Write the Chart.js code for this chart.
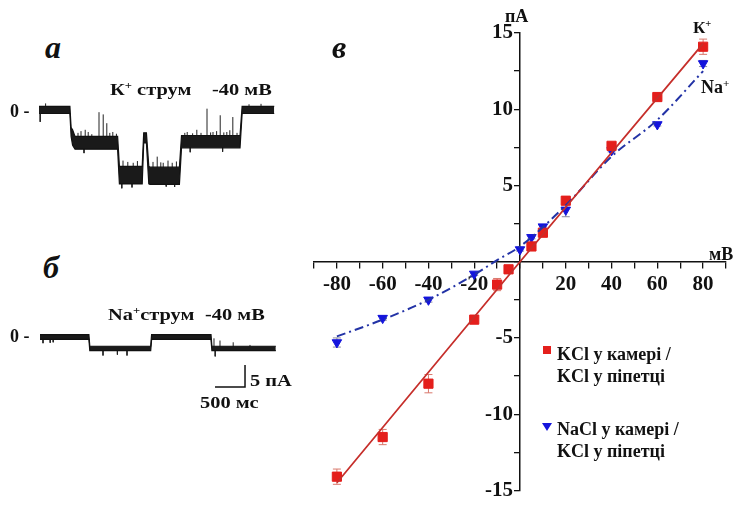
<!DOCTYPE html>
<html lang="uk">
<head>
<meta charset="utf-8">
<title>K+ / Na+ струм</title>
<script src="https://cdn.jsdelivr.net/npm/chart.js@4.4.0/dist/chart.umd.min.js"></script>
<style>
  html, body { margin: 0; padding: 0; background: #fff; }
  #wrap { position: relative; width: 738px; height: 506px; overflow: hidden;
          font-family: "Liberation Serif", "Times New Roman", serif; font-weight: bold; color: #111; }
  canvas { position: absolute; }
  .t { position: absolute; white-space: nowrap; line-height: 1; transform-origin: 0 0; }
  .sup { font-size: 0.62em; position: relative; top: -0.55em; }
  .big { font-size: 32px; font-style: italic; }
  .wide { transform: scaleX(1.2); }
  .mk { position: absolute; }
</style>
</head>
<body>
<div id="wrap">
  <canvas id="traceA" width="260" height="110" style="left:30px;top:85px"></canvas>
  <canvas id="traceB" width="260" height="110" style="left:30px;top:310px"></canvas>
  <canvas id="iv" width="438" height="506" style="left:300px;top:0px"></canvas>

  <!-- panel letters -->
  <div class="t big" style="left:45px;top:31px">а</div>
  <div class="t big" style="left:43px;top:251px">б</div>
  <div class="t big" style="left:332px;top:31px">в</div>

  <!-- trace a labels -->
  <div class="t wide" style="left:110px;top:81px;font-size:17px">К<span class="sup">+</span> струм</div>
  <div class="t wide" style="left:212px;top:81px;font-size:17px">-40 мВ</div>
  <div class="t" style="left:10px;top:102px;font-size:18px">0 -</div>

  <!-- trace b labels -->
  <div class="t wide" style="left:108px;top:306px;font-size:17px">Na<span class="sup">+</span>струм</div>
  <div class="t wide" style="left:205px;top:306px;font-size:17px">-40 мВ</div>
  <div class="t" style="left:10px;top:327px;font-size:18px">0 -</div>
  <div class="t wide" style="left:250px;top:372px;font-size:17px">5 пА</div>
  <div class="t wide" style="left:200px;top:394px;font-size:17px">500 мс</div>

  <!-- I-V labels -->
  <div class="t" style="left:505px;top:7px;font-size:18px">пА</div>
  <div class="t" style="left:709px;top:245px;font-size:18px">мВ</div>
  <div class="t" style="left:693px;top:19px;font-size:17px">К<span class="sup">+</span></div>
  <div class="t" style="left:701px;top:78px;font-size:18px">Na<span class="sup">+</span></div>

  <!-- legend -->
  <div class="mk" style="left:543px;top:346px;width:8px;height:8px;background:#e41f1c"></div>
  <div class="t" style="left:557px;top:345px;font-size:18px">KCl у камері /</div>
  <div class="t" style="left:557px;top:367px;font-size:18px">KCl у піпетці</div>
  <div class="mk" style="left:542px;top:423px;width:0;height:0;border-left:5px solid transparent;border-right:5px solid transparent;border-top:8px solid #1414dc"></div>
  <div class="t" style="left:557px;top:420px;font-size:18px">NaCl у камері /</div>
  <div class="t" style="left:557px;top:442px;font-size:18px">KCl у піпетці</div>
</div>

<script>
// --- I-V data (mV, pA) ---
const kV   = [-80, -60, -40, -20, -10, -5, 5, 10, 20, 40, 60, 80];
const kI   = [-14.1, -11.5, -8.0, -3.8, -1.5, -0.5, 1.0, 1.9, 4.0, 7.6, 10.8, 14.1];
const kErr = [0.5, 0.5, 0.6, 0.15, 0.4, 0.1, 0.1, 0.1, 0.1, 0.15, 0.1, 0.5];

const naV   = [-80, -60, -40, -20, 0, 5, 10, 20, 40, 60, 80];
const naI   = [-5.3, -3.7, -2.5, -0.8, 0.8, 1.6, 2.3, 3.4, 7.3, 9.0, 13.0];
const naErr = [0.3, 0.15, 0.15, 0.1, 0.1, 0.1, 0.1, 0.45, 0.1, 0.1, 0.2];

const kFitV  = [-80, 0, 80];
const kFitI  = [-14.5, 0, 14.3];
const naFitV = [-80, -60, -40, -20, -10, 0, 20, 40, 60, 80];
const naFitI = [-4.9, -3.8, -2.5, -0.85, 0.1, 1.0, 3.7, 6.9, 9.3, 12.5];

// --- single channel traces (ms, pA): noise band edges + spikes ---
const tA  = [0, 515, 535, 560, 600, 1310, 1340, 1720, 1745, 1790, 1830, 1850, 2340, 2375, 3350, 3385, 3920];
const hiA = [0.8, 0.8, -4, -4.5, -6.0, -6.0, -12.8, -12.8, -5.2, -5.2, -12.8, -13.0, -13.0, -5.8, -5.8, 0.8, 0.8];
const loA = [-0.8, -0.8, -6, -8, -8.9, -8.9, -16.8, -16.8, -7.5, -7.5, -16.8, -16.9, -16.9, -8.6, -8.6, -0.8, -0.8];
const spA     = [20, 110, 650, 700, 770, 820, 880, 1000, 1070, 1130, 1180, 1230, 1290, 1400, 1480, 1570, 1640,
                 1900, 1970, 2030, 2070, 2150, 2220, 2290, 2430, 2470, 2560, 2630, 2700, 2800, 2860, 2900,
                 2960, 3020, 3080, 3130, 3180, 3230, 3300, 3500, 3700, 1550, 2120, 1380, 2260, 750, 2520, 3060];
const spAFrom = [0, 0, -7.5, -7.5, -7.5, -7.5, -7.5, -7.5, -7.5, -7.5, -7.5, -7.5, -7.5, -14.8, -14.8, -14.8, -14.8,
                 -14.8, -14.8, -14.8, -14.8, -14.8, -14.8, -14.8, -7.2, -7.2, -7.2, -7.2, -7.2, -7.2, -7.2, -7.2,
                 -7.2, -7.2, -7.2, -7.2, -7.2, -7.2, -7.2, 0, 0, -14.8, -14.8, -14.8, -14.8, -7.5, -7.2, -7.2];
const spATo   = [-2.7, 1.5, -5.2, -4.8, -4.5, -5, -5.5, -0.5, -1, -3, -5.2, -5, -5.4, -11.5, -11.8, -12, -11.6,
                 -11.8, -10.6, -11.9, -12, -11.5, -12, -11.7, -5.2, -5, -5.3, -4.5, -5.2, 0.3, -5.1, -5,
                 -4.8, -1.2, -5.1, -5, -4.6, -1.6, -5.2, 1.3, 1.4, -17.6, -17.4, -17.8, -17.5, -9.8, -9.6, -9.5];

const tB  = [0, 815, 830, 1845, 1860, 2850, 2865, 3930];
const hiB = [0.55, 0.55, -2.1, -2.1, 0.55, 0.55, -2.1, -2.1];
const loB = [-0.55, -0.55, -3.1, -3.1, -0.55, -0.55, -3.1, -3.1];
const spB     = [50, 170, 220, 1050, 1290, 1450, 2900, 2920, 3000, 3220, 3500];
const spBFrom = [0, 0, 0, -2.6, -2.6, -2.6, -2.6, -2.6, -2.6, -2.6, -2.6];
const spBTo   = [-1.4, -1.3, -1.2, -4.2, -4.0, -4.2, -0.3, -4.4, -0.8, -1.2, -1.8];

// scale bar: 500 ms x 5 pA
const barT = [2917, 3417, 3417];
const barI = [-11.36, -11.36, -6.36];

const INK = "#111";

function pts(xs, ys) {
  return xs.map((x, i) => ({ x, y: ys[i] }));
}

function spikes(ts, from, to) {
  const out = [];
  ts.forEach((t, i) => {
    out.push({ x: t, y: from[i] }, { x: t, y: to[i] }, { x: t, y: null });
  });
  return out;
}

function makeTrace(id, t, hi, lo, spT, spFrom, spTo, range, extra) {
  const datasets = [
    { data: pts(t, hi), showLine: true, borderColor: INK, borderWidth: 1.2, pointRadius: 0, clip: false },
    { data: pts(t, lo), showLine: true, borderColor: INK, borderWidth: 1.2, pointRadius: 0,
      fill: "-1", backgroundColor: "#1a1a1a", clip: false },
    { data: spikes(spT, spFrom, spTo), showLine: true, spanGaps: false, borderColor: "#222",
      borderWidth: 1, pointRadius: 0, clip: false },
  ];
  if (extra) datasets.push(extra);
  return new Chart(document.getElementById(id), {
    type: "scatter",
    data: { datasets },
    options: {
      responsive: false,
      animation: false,
      layout: { padding: 0 },
      plugins: { legend: { display: false }, tooltip: { enabled: false } },
      scales: {
        x: { type: "linear", display: false, min: range[0], max: range[1] },
        y: { type: "linear", display: false, min: range[2], max: range[3] },
      },
    },
  });
}

makeTrace("traceA", tA, hiA, loA, spA, spAFrom, spATo, [-150, 4183, -19.32, 5.68]);
makeTrace("traceB", tB, hiB, loB, spB, spBFrom, spBTo, [-166.7, 4166.7, -18.86, 6.14], {
  data: pts(barT, barI), showLine: true, borderColor: INK, borderWidth: 1.5, pointRadius: 0, clip: false,
});

// error bars drawn under the markers
const errPlugin = {
  id: "errbars",
  beforeDatasetsDraw(chart) {
    const { ctx, scales } = chart;
    chart.data.datasets.forEach((ds) => {
      if (!ds.errs) return;
      ctx.save();
      ctx.strokeStyle = ds.errColor;
      ctx.lineWidth = 1;
      ds.data.forEach((p, i) => {
        const e = ds.errs[i];
        if (!e) return;
        const px = scales.x.getPixelForValue(p.x);
        const y1 = scales.y.getPixelForValue(p.y + e);
        const y2 = scales.y.getPixelForValue(p.y - e);
        ctx.beginPath();
        ctx.moveTo(px, y1); ctx.lineTo(px, y2);
        ctx.moveTo(px - 4, y1); ctx.lineTo(px + 4, y1);
        ctx.moveTo(px - 4, y2); ctx.lineTo(px + 4, y2);
        ctx.stroke();
      });
      ctx.restore();
    });
  },
};

const tickFont = { family: "'Liberation Serif', 'Times New Roman', serif", size: 21, weight: "bold" };

new Chart(document.getElementById("iv"), {
  type: "scatter",
  data: {
    datasets: [
      { label: "K fit", data: pts(kFitV, kFitI), showLine: true, borderColor: "#c62f2b",
        borderWidth: 1.8, pointRadius: 0 },
      { label: "Na fit", data: pts(naFitV, naFitI), showLine: true, borderColor: "#2333a6",
        borderWidth: 2, borderDash: [9, 4, 2, 4], pointRadius: 0, cubicInterpolationMode: "monotone" },
      { label: "KCl у камері / KCl у піпетці", data: pts(kV, kI), pointStyle: "rect", pointRadius: 6.5,
        backgroundColor: "#e41f1c", borderColor: "#e41f1c", errs: kErr, errColor: "#d9786c" },
      { label: "NaCl у камері / KCl у піпетці", data: pts(naV, naI), pointStyle: "triangle", rotation: 180,
        pointRadius: 5.5, backgroundColor: "#1414dc", borderColor: "#1414dc", errs: naErr, errColor: "#8a8aa0" },
    ],
  },
  options: {
    responsive: false,
    animation: false,
    layout: { padding: { left: 14, right: 12, top: 33, bottom: 11 } },
    plugins: { legend: { display: false }, tooltip: { enabled: false } },
    scales: {
      x: {
        type: "linear", min: -90, max: 90, position: { y: 0 },
        afterFit: (s) => { s.height = 0; },
        ticks: { stepSize: 10, autoSkip: false, maxRotation: 0, padding: 4, color: INK, font: tickFont,
          callback: (v) => (v % 20 === 0 && v !== 0 ? String(v) : "") },
        grid: { drawOnChartArea: false, drawTicks: true, tickLength: 6, color: INK, lineWidth: 1.3 },
        border: { display: true, color: INK, width: 1.5 },
      },
      y: {
        type: "linear", min: -15, max: 15, position: { x: 0 },
        afterFit: (s) => { s.width = 0; },
        // centred axis labels sit on the axis line, a trailing space pushes them clear of the ticks
        ticks: { stepSize: 2.5, autoSkip: false, padding: 3, color: INK, font: tickFont,
          callback: (v) => (v % 5 === 0 && v !== 0 ? String(v) + " \u200A" : "") },
        grid: { drawOnChartArea: false, drawTicks: true, tickLength: 5, color: INK, lineWidth: 1.3 },
        border: { display: true, color: INK, width: 1.5 },
      },
    },
  },
  plugins: [errPlugin],
});
</script>
</body>
</html>
